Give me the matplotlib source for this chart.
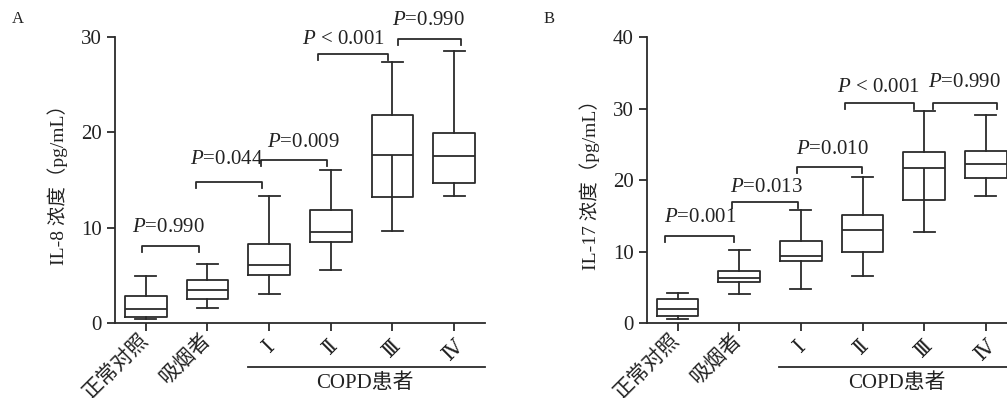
import matplotlib
matplotlib.use("Agg")
import matplotlib.pyplot as plt

plt.rcParams['font.family'] = ['Liberation Serif', 'DejaVu Serif', 'Noto Sans CJK SC']
plt.rcParams['mathtext.fontset'] = 'custom'
plt.rcParams['mathtext.rm'] = 'Liberation Serif'
plt.rcParams['mathtext.it'] = 'Liberation Serif:italic'

groups = ["正常对照", "吸烟者", "Ⅰ", "Ⅱ", "Ⅲ", "Ⅳ"]

# panel A: IL-8
a_wlo = [0.4, 1.6, 3.0, 5.6, 9.6, 13.3]
a_q1 = [0.6, 2.5, 5.0, 8.5, 13.25, 14.7]
a_med = [1.5, 3.5, 6.1, 9.5, 17.6, 17.5]
a_q3 = [2.85, 4.5, 8.25, 11.85, 21.8, 19.9]
a_whi = [4.95, 6.2, 13.35, 16.0, 27.4, 28.5]
a_brackets = [(-0.07, 0.86, 8.1), (0.82, 1.89, 14.8), (1.87, 2.94, 17.1),
              (2.79, 3.93, 28.2), (4.09, 5.11, 29.8)]
a_ptext = [(0.37, 10.0, "=0.990"), (1.31, 17.1, "=0.044"), (2.56, 18.9, "=0.009"),
           (3.21, 29.75, " < 0.001"), (4.59, 31.7, "=0.990")]

# panel B: IL-17
b_wlo = [0.5, 4.05, 4.8, 6.6, 12.7, 17.7]
b_q1 = [1.05, 5.7, 8.7, 9.95, 17.25, 20.3]
b_med = [2.0, 6.35, 9.35, 13.05, 21.75, 22.2]
b_q3 = [3.3, 7.3, 11.45, 15.15, 23.9, 24.0]
b_whi = [4.2, 10.15, 15.75, 20.4, 29.65, 29.05]
b_brackets = [(-0.2, 0.92, 12.13), (0.89, 1.95, 16.9), (1.93, 2.99, 21.8),
              (2.71, 3.83, 30.77), (4.15, 5.18, 30.77)]
b_ptext = [(0.36, 14.7, "=0.001"), (1.44, 19.0, "=0.013"), (2.51, 24.3, "=0.010"),
           (3.26, 33.0, " < 0.001"), (4.65, 33.6, "=0.990")]

col = "#2b2b2b"
lw = 1.3
fs = 15


def panel(ax, wlo, q1, med, q3, whi, brackets, ptext, ymax, ylabel, letter):
    stats = []
    for i in range(len(groups)):
        stats.append(dict(whislo=wlo[i], q1=q1[i], med=med[i], q3=q3[i], whishi=whi[i]))
    lp = dict(color=col, linewidth=lw)
    ax.bxp(stats, positions=range(len(groups)), widths=0.68, showfliers=False,
           boxprops=lp, whiskerprops=lp, capprops=lp, medianprops=lp)
    # lower whisker of group III continues up through the box to the median
    ax.vlines(4, q1[4], med[4], color=col, linewidth=lw)

    ax.set_xlim(-0.5, 5.5)
    ax.set_ylim(0, ymax)
    ax.set_yticks(range(0, ymax + 1, 10))
    ax.spines[['top', 'right']].set_visible(False)
    for s in ['left', 'bottom']:
        ax.spines[s].set_color(col)
        ax.spines[s].set_linewidth(lw)
    ax.tick_params(colors=col, width=lw, length=6, labelsize=fs, labelcolor='#222')
    ax.tick_params(axis='x', pad=4)

    ax.set_xticks(range(len(groups)))
    ax.set_xticklabels(groups, fontsize=fs)
    for i, t in enumerate(ax.get_xticklabels()):
        t.set_rotation(45)
        if i < 2:
            t.set_ha('right')
            t.set_va('center')
            t.set_rotation_mode('anchor')
        else:
            t.set_ha('center')
            t.set_va('top')
    ax.set_ylabel(ylabel, fontsize=14, labelpad=9, color='#222')

    drop = ymax * 0.021
    for x1, x2, y in brackets:
        ax.plot([x1, x1, x2, x2], [y - drop, y, y, y - drop], color=col,
                linewidth=lw, clip_on=False)
    for x, y, s in ptext:
        ax.text(x, y, r"$\mathit{P}$" + s, ha='center', va='center', fontsize=fs,
                color='#222', clip_on=False)

    tr = ax.get_xaxis_transform()
    ax.plot([1.65, 5.5], [-0.153, -0.153], color=col, linewidth=lw,
            transform=tr, clip_on=False)
    ax.text(3.55, -0.209, "COPD患者", transform=tr, ha='center', va='center',
            fontsize=fs, color='#222')
    ax.text(-0.263, 1.062, letter, transform=ax.transAxes, fontsize=12, color='#222',
            ha='center', va='center')


fig = plt.figure(figsize=(10.07, 3.98), dpi=100)
ax1 = fig.add_axes([0.1142, 0.1884, 0.3674, 0.7186])
ax2 = fig.add_axes([0.6422, 0.1884, 0.3674, 0.7186])

panel(ax1, a_wlo, a_q1, a_med, a_q3, a_whi, a_brackets, a_ptext, 30,
      "IL-8 浓度（pg/mL）", "A")
panel(ax2, b_wlo, b_q1, b_med, b_q3, b_whi, b_brackets, b_ptext, 40,
      "IL-17 浓度（pg/mL）", "B")

fig.savefig("out.png", dpi=100)
